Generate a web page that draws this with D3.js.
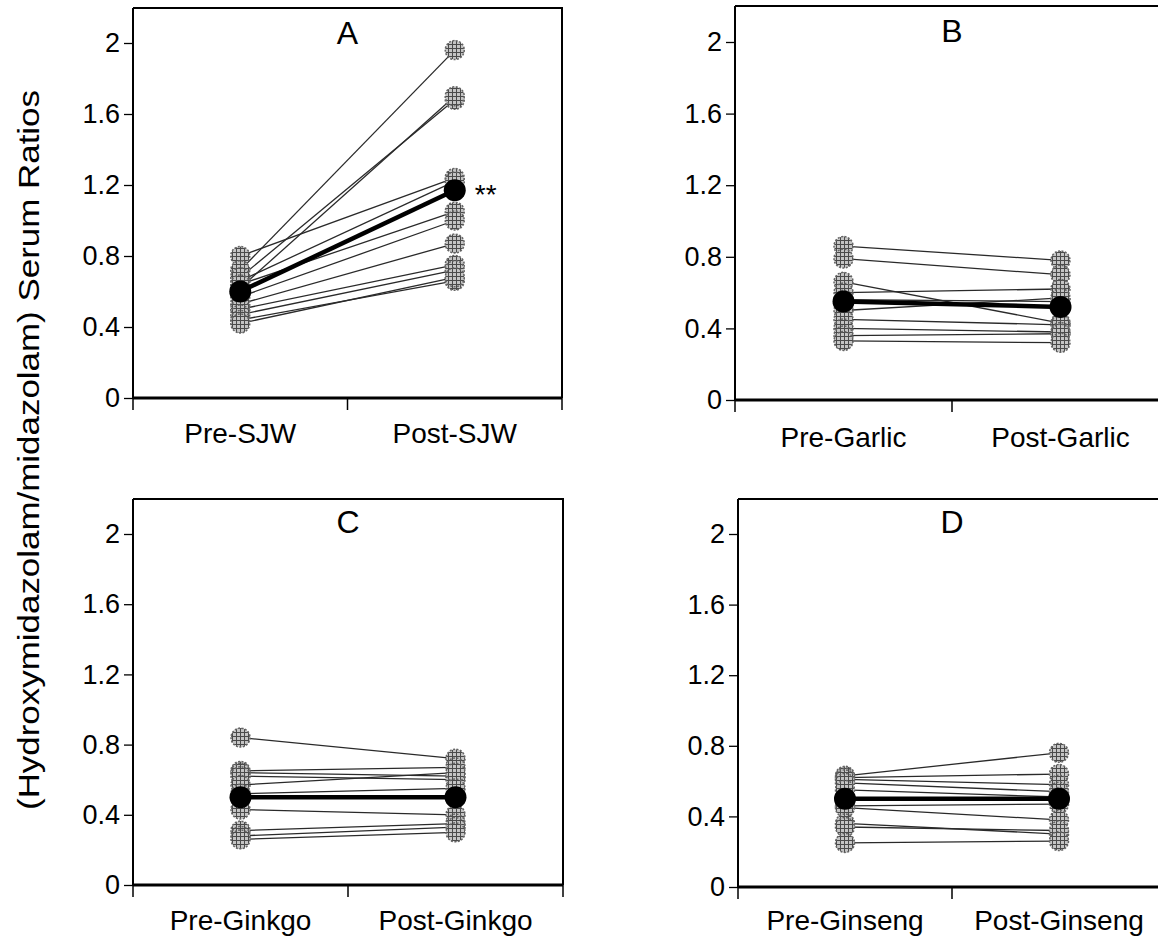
<!DOCTYPE html>
<html><head><meta charset="utf-8">
<script src="https://cdn.jsdelivr.net/npm/d3@7"></script>
<style>
html,body{margin:0;padding:0;background:#fff;}
svg{display:block;font-family:"Liberation Sans",Arial,sans-serif;}
</style></head>
<body>
<svg id="chart" width="1158" height="940"></svg>
<script>
// ---- data ----
const panelLetters = ["A", "B", "C", "D"];
const preLabels = ["Pre-SJW", "Pre-Garlic", "Pre-Ginkgo", "Pre-Ginseng"];
const postLabels = ["Post-SJW", "Post-Garlic", "Post-Ginkgo", "Post-Ginseng"];
const yTickValues = [0, 0.4, 0.8, 1.2, 1.6, 2];
const yTickLabels = ["0", "0.4", "0.8", "1.2", "1.6", "2"];

const sjwPre  = [0.80, 0.66, 0.72, 0.68, 0.62, 0.64, 0.57, 0.53, 0.50, 0.47, 0.44, 0.42];
const sjwPost = [1.24, 1.22, 1.96, 1.68, 1.70, 1.05, 1.00, 0.87, 0.75, 0.72, 0.66, 0.68];
const garlicPre  = [0.86, 0.79, 0.66, 0.60, 0.56, 0.50, 0.45, 0.40, 0.36, 0.33];
const garlicPost = [0.78, 0.70, 0.43, 0.62, 0.55, 0.57, 0.42, 0.38, 0.37, 0.32];
const ginkgoPre  = [0.84, 0.65, 0.64, 0.62, 0.57, 0.52, 0.43, 0.31, 0.28, 0.26];
const ginkgoPost = [0.72, 0.67, 0.62, 0.60, 0.64, 0.55, 0.40, 0.35, 0.33, 0.30];
const ginsengPre  = [0.63, 0.62, 0.61, 0.59, 0.55, 0.46, 0.45, 0.36, 0.34, 0.25];
const ginsengPost = [0.76, 0.64, 0.58, 0.54, 0.51, 0.47, 0.38, 0.30, 0.32, 0.26];
const meanPre  = [0.60, 0.55, 0.50, 0.50];
const meanPost = [1.17, 0.52, 0.50, 0.50];
const significance = ["**", "", "", ""];
const yTitle = "(Hydroxymidazolam/midazolam) Serum Ratios";

const preSeries = [sjwPre, garlicPre, ginkgoPre, ginsengPre];
const postSeries = [sjwPost, garlicPost, ginkgoPost, ginsengPost];

// ---- layout (pixel frames of each panel) ----
const frames = [
  {left: 133, half: 214.5, top: 8, base: 398, y2: 43, labelY: 443},
  {left: 735, half: 217, top: 6, base: 400, y2: 42, labelY: 447},
  {left: 133, half: 215, top: 499, base: 885, y2: 534, labelY: 930},
  {left: 738, half: 214, top: 499, base: 887, y2: 534, labelY: 930}
];

const svg = d3.select("#chart");
const defs = svg.append("defs");
const pat = defs.append("pattern").attr("id", "hatch")
  .attr("width", 4).attr("height", 4).attr("patternUnits", "userSpaceOnUse");
pat.append("rect").attr("width", 4).attr("height", 4).attr("fill", "#c4c4c4");
pat.append("path").attr("d", "M0,0.5H4M0.5,0V4").attr("stroke", "#4a4a4a").attr("stroke-width", 1);

frames.forEach((f, i) => {
  const cats = [preLabels[i], postLabels[i]];
  const x = d3.scaleBand().domain(cats).range([f.left, f.left + 2 * f.half]).padding(0);
  const y = d3.scaleLinear().domain([0, 2]).range([f.base, f.y2]);
  const yTopVal = y.invert(f.top);
  const g = svg.append("g");
  const right = f.left + 2 * f.half;

  g.append("path")
    .attr("d", `M${f.left},${y(yTopVal)}H${right}V${f.base}`)
    .attr("fill", "none").attr("stroke", "#000").attr("stroke-width", 2);

  const yAxis = d3.axisLeft(y).tickValues(yTickValues)
    .tickFormat((d, k) => yTickLabels[k]).tickSize(9).tickPadding(4);
  const ya = g.append("g").attr("transform", `translate(${f.left},0)`).call(yAxis);
  ya.select(".domain").remove();
  ya.append("line").attr("x1", 0).attr("x2", 0).attr("y1", y(yTopVal)).attr("y2", f.base)
    .attr("stroke", "#000").attr("stroke-width", 2);
  ya.selectAll(".tick line").attr("stroke", "#000").attr("stroke-width", 1.3);
  ya.selectAll(".tick text").attr("font-size", 27).attr("fill", "#000")
    .attr("font-family", "'Liberation Sans',Arial,sans-serif");

  const xa = g.append("g").attr("transform", `translate(0,${f.base})`);
  xa.append("line").attr("x1", f.left).attr("x2", right).attr("y1", 0).attr("y2", 0)
    .attr("stroke", "#000").attr("stroke-width", 3);
  const bounds = [x(cats[0]), x(cats[1]), x(cats[1]) + x.bandwidth()];
  xa.selectAll("line.tk").data(bounds).join("line").attr("class", "tk")
    .attr("x1", d => d).attr("x2", d => d).attr("y1", 0).attr("y2", 12)
    .attr("stroke", "#000").attr("stroke-width", 1.5);
  g.selectAll("text.cat").data(cats).join("text").attr("class", "cat")
    .attr("x", d => x(d) + x.bandwidth() / 2).attr("y", f.labelY)
    .attr("text-anchor", "middle").attr("font-size", 28).attr("fill", "#000")
    .text(d => d);

  g.append("text").attr("x", x(cats[1])).attr("y", f.top + (i < 2 ? 36 : 34))
    .attr("text-anchor", "middle").attr("font-size", 32).attr("fill", "#000")
    .text(panelLetters[i]);

  const cx0 = x(cats[0]) + x.bandwidth() / 2;
  const cx1 = x(cats[1]) + x.bandwidth() / 2;
  const pre = preSeries[i], post = postSeries[i];
  const pairs = pre.map((v, k) => [v, post[k]]);

  g.selectAll("line.subj").data(pairs).join("line").attr("class", "subj")
    .attr("x1", cx0).attr("y1", d => y(d[0])).attr("x2", cx1).attr("y2", d => y(d[1]))
    .attr("stroke", "#2a2a2a").attr("stroke-width", 1.3);

  const pts = pre.map(v => [cx0, v]).concat(post.map(v => [cx1, v]));
  g.selectAll("circle.subj").data(pts).join("circle").attr("class", "subj")
    .attr("cx", d => d[0]).attr("cy", d => y(d[1])).attr("r", 9.5)
    .attr("fill", "url(#hatch)").attr("stroke", "#666").attr("stroke-width", 1.5)
    .attr("stroke-dasharray", "2,1.5");

  g.append("line").attr("x1", cx0).attr("y1", y(meanPre[i])).attr("x2", cx1).attr("y2", y(meanPost[i]))
    .attr("stroke", "#000").attr("stroke-width", 4.5);
  g.selectAll("circle.mean").data([[cx0, meanPre[i]], [cx1, meanPost[i]]]).join("circle")
    .attr("class", "mean").attr("cx", d => d[0]).attr("cy", d => y(d[1])).attr("r", 11)
    .attr("fill", "#000");

  if (significance[i]) {
    g.append("text").attr("x", cx1 + 20).attr("y", y(meanPost[i]) + 14)
      .attr("font-size", 28).attr("fill", "#000").text(significance[i]);
  }
});

svg.append("text")
  .attr("transform", "translate(39,450) rotate(-90)")
  .attr("text-anchor", "middle").attr("font-size", 30).attr("fill", "#000")
  .attr("textLength", 720).attr("lengthAdjust", "spacingAndGlyphs")
  .text(yTitle);
</script>
</body></html>
